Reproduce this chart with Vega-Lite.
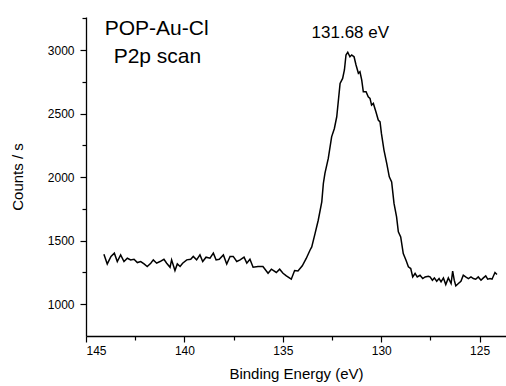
{
  "$schema": "https://vega.github.io/schema/vega-lite/v6.json",
  "width": 420,
  "height": 319,
  "autosize": "none",
  "padding": {"left": 86, "top": 17, "right": 0, "bottom": 50},
  "background": "white",
  "config": {
    "view": {"stroke": null},
    "font": "Liberation Sans"
  },
  "datasets": {
    "spectrum": [
      {"be":144.09,"counts":1394},{"be":143.92,"counts":1317},{"be":143.73,"counts":1376},{"be":143.56,"counts":1402},
      {"be":143.41,"counts":1336},{"be":143.24,"counts":1388},{"be":143.07,"counts":1336},{"be":142.90,"counts":1362},
      {"be":142.73,"counts":1349},{"be":142.56,"counts":1354},{"be":142.39,"counts":1328},{"be":142.22,"counts":1336},
      {"be":142.05,"counts":1317},{"be":141.89,"counts":1297},{"be":141.71,"counts":1323},{"be":141.58,"counts":1349},
      {"be":141.41,"counts":1323},{"be":141.24,"counts":1336},{"be":141.04,"counts":1354},{"be":140.90,"counts":1323},
      {"be":140.73,"counts":1291},{"be":140.65,"counts":1349},{"be":140.48,"counts":1265},{"be":140.36,"counts":1317},
      {"be":140.22,"counts":1297},{"be":140.09,"counts":1323},{"be":139.88,"counts":1349},{"be":139.68,"counts":1354},
      {"be":139.55,"counts":1376},{"be":139.38,"counts":1349},{"be":139.21,"counts":1388},{"be":139.07,"counts":1336},
      {"be":138.90,"counts":1370},{"be":138.70,"counts":1362},{"be":138.53,"counts":1402},{"be":138.39,"counts":1349},
      {"be":138.23,"counts":1354},{"be":138.02,"counts":1388},{"be":137.85,"counts":1317},{"be":137.68,"counts":1376},
      {"be":137.52,"counts":1376},{"be":137.34,"counts":1336},{"be":137.17,"counts":1349},{"be":136.97,"counts":1370},
      {"be":136.83,"counts":1323},{"be":136.67,"counts":1354},{"be":136.51,"counts":1291},{"be":136.26,"counts":1297},
      {"be":136.01,"counts":1297},{"be":135.75,"counts":1244},{"be":135.58,"counts":1276},{"be":135.33,"counts":1250},
      {"be":135.16,"counts":1276},{"be":134.99,"counts":1244},{"be":134.82,"counts":1223},{"be":134.57,"counts":1197},
      {"be":134.40,"counts":1265},{"be":134.23,"counts":1262},{"be":134.01,"counts":1302},{"be":133.81,"counts":1360},
      {"be":133.62,"counts":1425},{"be":133.53,"counts":1451},{"be":133.36,"counts":1557},{"be":133.20,"counts":1661},
      {"be":133.02,"counts":1806},{"be":132.94,"counts":1950},{"be":132.86,"counts":2029},{"be":132.69,"counts":2147},
      {"be":132.52,"counts":2317},{"be":132.38,"counts":2383},{"be":132.26,"counts":2475},{"be":132.09,"counts":2738},
      {"be":131.96,"counts":2777},{"be":131.87,"counts":2843},{"be":131.79,"counts":2961},{"be":131.70,"counts":2983},
      {"be":131.59,"counts":2947},{"be":131.50,"counts":2961},{"be":131.38,"counts":2947},{"be":131.28,"counts":2882},
      {"be":131.16,"counts":2817},{"be":131.08,"counts":2829},{"be":130.99,"counts":2764},{"be":130.91,"counts":2672},
      {"be":130.77,"counts":2672},{"be":130.66,"counts":2632},{"be":130.57,"counts":2620},{"be":130.49,"counts":2567},
      {"be":130.40,"counts":2580},{"be":130.27,"counts":2514},{"be":130.15,"counts":2449},{"be":130.06,"counts":2435},
      {"be":129.99,"counts":2344},{"be":129.86,"counts":2213},{"be":129.72,"counts":2108},{"be":129.59,"counts":2002},
      {"be":129.47,"counts":1963},{"be":129.35,"counts":1793},{"be":129.22,"counts":1687},{"be":129.13,"counts":1569},
      {"be":129.01,"counts":1530},{"be":128.88,"counts":1399},{"be":128.74,"counts":1346},{"be":128.62,"counts":1294},
      {"be":128.50,"counts":1281},{"be":128.40,"counts":1215},{"be":128.28,"counts":1242},{"be":128.17,"counts":1215},
      {"be":128.03,"counts":1228},{"be":127.89,"counts":1202},{"be":127.77,"counts":1215},{"be":127.61,"counts":1220},
      {"be":127.52,"counts":1215},{"be":127.40,"counts":1189},{"be":127.30,"counts":1207},{"be":127.18,"counts":1181},
      {"be":127.06,"counts":1202},{"be":126.96,"counts":1176},{"be":126.84,"counts":1207},{"be":126.72,"counts":1155},
      {"be":126.59,"counts":1207},{"be":126.45,"counts":1163},{"be":126.37,"counts":1260},{"be":126.29,"counts":1189},
      {"be":126.21,"counts":1144},{"be":126.08,"counts":1163},{"be":125.95,"counts":1181},{"be":125.83,"counts":1228},
      {"be":125.71,"counts":1215},{"be":125.57,"counts":1202},{"be":125.44,"counts":1215},{"be":125.32,"counts":1202},
      {"be":125.20,"counts":1197},{"be":125.07,"counts":1215},{"be":124.93,"counts":1189},{"be":124.81,"counts":1207},
      {"be":124.69,"counts":1223},{"be":124.59,"counts":1197},{"be":124.47,"counts":1202},{"be":124.37,"counts":1197},
      {"be":124.22,"counts":1250},{"be":124.12,"counts":1234}
    ],
    "notes": [
      {"be": 141.41, "counts": 3118, "note": "POP-Au-Cl", "kind": "sample"},
      {"be": 141.37, "counts": 2895, "note": "P2p scan", "kind": "sample"},
      {"be": 131.57, "counts": 3097, "note": "131.68 eV", "kind": "peak"}
    ]
  },
  "encoding": {
    "x": {
      "field": "be", "type": "quantitative",
      "scale": {"domain": [123.66, 145], "reverse": true, "nice": false, "zero": false},
      "axis": {
        "title": "Binding Energy (eV)",
        "values": [145, 142.5, 140, 137.5, 135, 132.5, 130, 127.5, 125],
        "labelExpr": "datum.value % 5 === 0 ? format(datum.value, 'd') : ''",
        "tickSize": {"condition": {"test": "datum.value % 5 === 0", "value": 6}, "value": 4},
        "grid": false,
        "domainColor": "#000", "domainWidth": 1.3,
        "tickColor": "#000", "tickWidth": 1.2,
        "labelColor": "#000", "labelFontSize": 12, "labelPadding": 3,
        "labelFont": "Liberation Sans",
        "titleColor": "#000", "titleFontSize": 15, "titleFontWeight": "normal", "titlePadding": 10,
        "titleFont": "Liberation Sans"
      }
    },
    "y": {
      "field": "counts", "type": "quantitative",
      "scale": {"domain": [750, 3260], "nice": false, "zero": false},
      "axis": {
        "title": "Counts / s",
        "values": [1000, 1250, 1500, 1750, 2000, 2250, 2500, 2750, 3000, 3250],
        "labelExpr": "datum.value % 500 === 0 ? format(datum.value, 'd') : ''",
        "tickSize": {"condition": {"test": "datum.value % 500 === 0", "value": 6}, "value": 4},
        "grid": false,
        "domainColor": "#000", "domainWidth": 1.3,
        "tickColor": "#000", "tickWidth": 1.2,
        "labelColor": "#000", "labelFontSize": 12, "labelPadding": 6,
        "labelFont": "Liberation Sans",
        "titleColor": "#000", "titleFontSize": 15, "titleFontWeight": "normal", "titlePadding": 22,
        "titleFont": "Liberation Sans"
      }
    }
  },
  "layer": [
    {
      "data": {"name": "spectrum"},
      "mark": {"type": "line", "color": "#000", "strokeWidth": 1.5, "clip": true}
    },
    {
      "data": {"name": "notes"},
      "transform": [{"filter": "datum.kind === 'sample'"}],
      "mark": {"type": "text", "fontSize": 21, "font": "Liberation Sans", "align": "center", "baseline": "alphabetic", "color": "#000"},
      "encoding": {"text": {"field": "note"}}
    },
    {
      "data": {"name": "notes"},
      "transform": [{"filter": "datum.kind === 'peak'"}],
      "mark": {"type": "text", "fontSize": 17, "font": "Liberation Sans", "align": "center", "baseline": "alphabetic", "color": "#000"},
      "encoding": {"text": {"field": "note"}}
    }
  ]
}
